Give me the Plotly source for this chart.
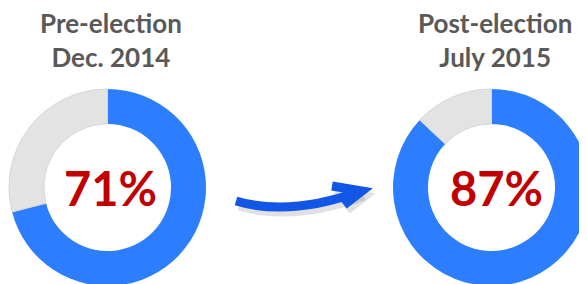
import plotly.graph_objects as go

W, H = 587, 284
OFF = 8  # page body margin offset

# Data
titles = ["Pre-election<br>Dec. 2014", "Post-election<br>July 2015"]
shares = [71, 87]
labels = ["Yes", "Other"]

BLUE = "#2D7DFF"
GRAY = "#E3E3E3"
RED = "#C00000"
TITLE_GRAY = "#595959"

def px(x):
    return (x - OFF) / W

def py(y):
    return 1 - (y - OFF) / H

centers = [(107.5, 187.5), (491.5, 187.5)]
R = 98.5

fig = go.Figure()
for (cx, cy), v in zip(centers, shares):
    fig.add_trace(go.Pie(
        values=[v, 100 - v],
        labels=labels,
        hole=0.645,
        sort=False,
        direction="clockwise",
        rotation=0,
        textinfo="none",
        hoverinfo="label+percent",
        marker=dict(colors=[BLUE, GRAY], line=dict(color=[BLUE, "#D6D6D6"], width=[0, 1])),
        domain=dict(x=[px(cx - R), px(cx + R)], y=[py(cy + R), py(cy - R)]),
        showlegend=False,
    ))

annotations = []
title_x = [111, 495]
for tx, t in zip(title_x, titles):
    annotations.append(dict(
        x=px(tx), y=py(40), xref="paper", yref="paper", text=t, showarrow=False,
        xanchor="center", yanchor="middle",
        font=dict(family="Lato", size=26, color=TITLE_GRAY, weight="bold"),
    ))
text_x = [110, 496]
for tx, (cx, cy), v in zip(text_x, centers, shares):
    annotations.append(dict(
        x=px(tx), y=py(cy), xref="paper", yref="paper", text=f"<b>{v}%</b>", showarrow=False,
        xanchor="center", yanchor="middle",
        font=dict(family="Lato", size=47, color=RED),
    ))

def pt(x, y):
    return f"{px(x):.5f},{py(y):.5f}"

shapes = []
for dx, dy, col, w in [(3, 5, "rgba(120,120,120,0.22)", 9), (0, 0, "#1256E6", 9)]:
    for p in [
        f"M {pt(236+dx,201+dy)} Q {pt(290+dx,217+dy)} {pt(361+dx,191+dy)}",
        f"M {pt(332+dx,186+dy)} L {pt(362+dx,191+dy)} L {pt(344+dx,205+dy)}",
    ]:
        shapes.append(dict(type="path", xref="paper", yref="paper", path=p,
                           line=dict(color=col, width=w)))

fig.update_layout(
    width=W, height=H,
    margin=dict(l=0, r=0, t=0, b=0),
    paper_bgcolor="white", plot_bgcolor="white",
    annotations=annotations, shapes=shapes,
)
fig.write_html("out.html")
